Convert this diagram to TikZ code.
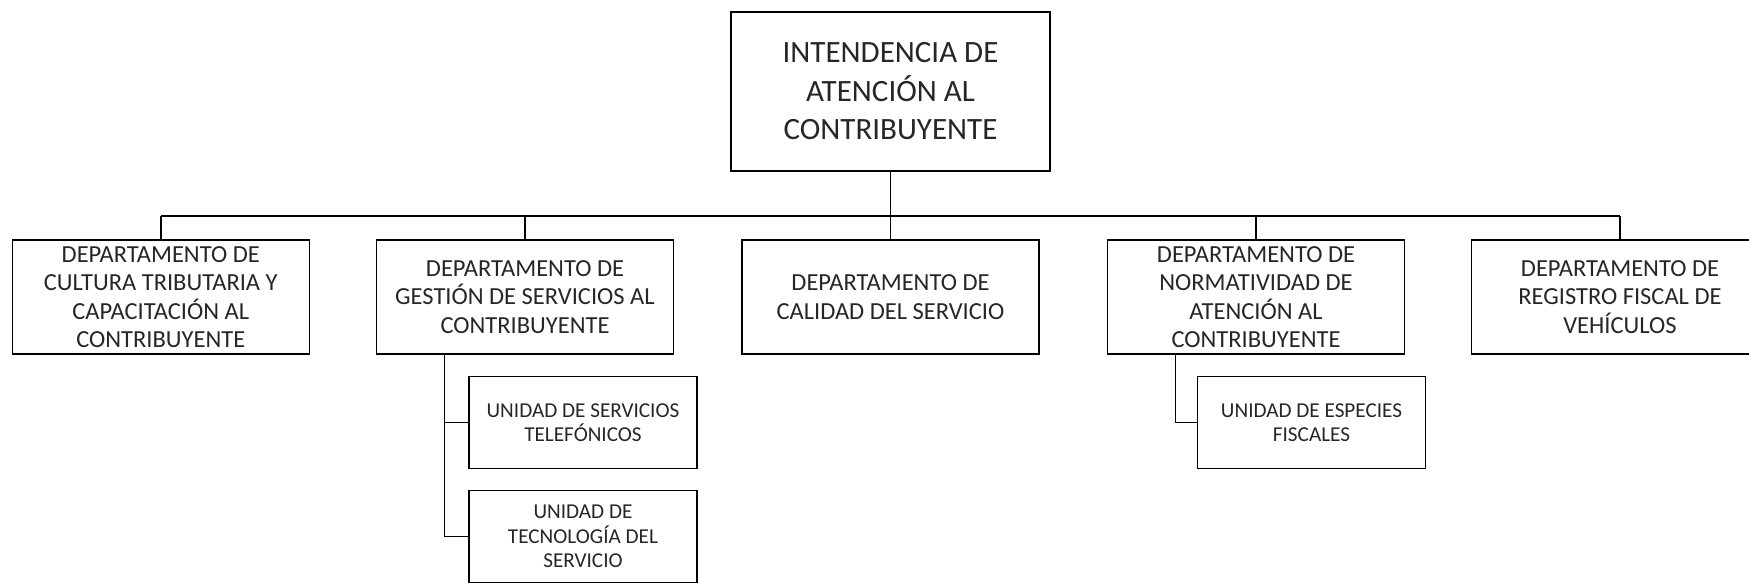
\documentclass[tikz,border=0pt]{standalone}
\usepackage{fontspec}
\setmainfont{Carlito}
\usetikzlibrary{positioning,calc}

\begin{document}
\begin{tikzpicture}[x=1pt, y=1pt,
    box/.style={draw, line width=1.5pt, align=center, inner sep=0pt, outer sep=0pt, text=black!85},
    headbox/.style={box, minimum width=319, minimum height=159, font=\fontsize{31}{38.5}\selectfont},
    deptbox/.style={box, minimum width=297, minimum height=114, font=\fontsize{24.5}{28.5}\selectfont},
    unitbox/.style={box, minimum width=228, minimum height=92, font=\fontsize{21.2}{24.5}\selectfont}]
    \clip (0,0) rectangle (1749,-583);

    % Intendencia
    \node[headbox] (top) at (890.5,-91.5) {INTENDENCIA DE\\ATENCIÓN AL\\CONTRIBUYENTE};

    % Departamentos
    \node[deptbox] (cult) at (160.75,-297) {DEPARTAMENTO DE\\CULTURA TRIBUTARIA Y\\CAPACITACIÓN AL\\CONTRIBUYENTE};
    \node[deptbox] (gest) at (525,-297) {DEPARTAMENTO DE\\GESTIÓN DE SERVICIOS AL\\CONTRIBUYENTE};
    \node[deptbox] (cal) at (890.5,-297) {DEPARTAMENTO DE\\CALIDAD DEL SERVICIO};
    \node[deptbox] (norm) at (1256,-297) {DEPARTAMENTO DE\\NORMATIVIDAD DE\\ATENCIÓN AL\\CONTRIBUYENTE};
    \node[deptbox] (reg) at (1620,-297) {DEPARTAMENTO DE\\REGISTRO FISCAL DE\\VEHÍCULOS};

    % Unidades
    \node[unitbox] (tel) at (583,-422.5) {UNIDAD DE SERVICIOS\\TELEFÓNICOS};
    \node[unitbox] (tec) at (583,-536.5) {UNIDAD DE\\TECNOLOGÍA DEL\\SERVICIO};
    \node[unitbox] (esp) at (1311.5,-422.5) {UNIDAD DE ESPECIES\\FISCALES};

    % Lineas
    \coordinate (bus) at (890.5,-216);
    \draw[line width=1.5pt] (top.south) -- (bus);
    \draw[line width=1.5pt] (cult.north |- bus) -- (reg.north |- bus);
    \foreach \d in {cult,gest,cal,norm,reg}
        \draw[line width=1.5pt] (\d.north) -- (\d.north |- bus);
    \draw[line width=1.5pt] ([xshift=68pt]gest.south west) |- (tel.west);
    \draw[line width=1.5pt] ([xshift=68pt]gest.south west) |- (tec.west);
    \draw[line width=1.5pt] ([xshift=68pt]norm.south west) |- (esp.west);
\end{tikzpicture}
\end{document}
